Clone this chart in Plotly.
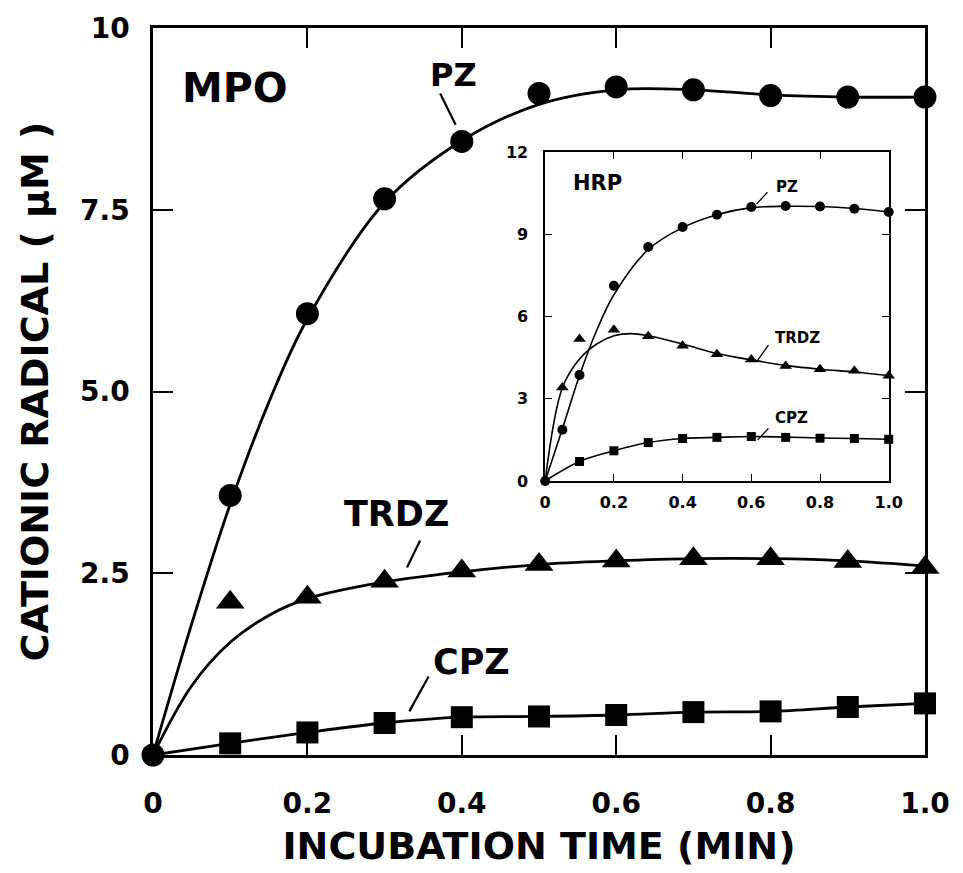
import plotly.graph_objects as go

# ---------------- data: MPO (main panel) ----------------
mpo_pz_t = [0, 0.1, 0.2, 0.3, 0.4, 0.5, 0.6, 0.7, 0.8, 0.9, 1.0]
mpo_pz_v = [0, 3.57, 6.07, 7.65, 8.44, 9.1, 9.19, 9.15, 9.07, 9.05, 9.05]
mpo_trdz_t = [0.1, 0.2, 0.3, 0.4, 0.5, 0.6, 0.7, 0.8, 0.9, 1.0]
mpo_trdz_v = [2.1, 2.17, 2.39, 2.53, 2.62, 2.67, 2.7, 2.7, 2.66, 2.58]
mpo_cpz_t = [0.1, 0.2, 0.3, 0.4, 0.5, 0.6, 0.7, 0.8, 0.9, 1.0]
mpo_cpz_v = [0.16, 0.31, 0.44, 0.52, 0.53, 0.55, 0.59, 0.6, 0.66, 0.71]

# fitted curves
mpo_pz_fit_t = [0, 0.05, 0.1, 0.15, 0.2, 0.3, 0.4, 0.5, 0.6, 0.7, 0.8, 0.9, 1.0]
mpo_pz_fit_v = [0, 1.8, 3.45, 4.85, 6.0, 7.6, 8.45, 8.95, 9.15, 9.15, 9.08, 9.05, 9.05]
mpo_trdz_fit_t = [0, 0.05, 0.1, 0.15, 0.2, 0.3, 0.4, 0.5, 0.6, 0.7, 0.8, 0.9, 1.0]
mpo_trdz_fit_v = [0, 0.95, 1.55, 1.92, 2.15, 2.38, 2.52, 2.62, 2.67, 2.7, 2.7, 2.67, 2.6]
mpo_cpz_fit_t = [0, 0.1, 0.2, 0.3, 0.4, 0.5, 0.6, 0.7, 0.8, 0.9, 1.0]
mpo_cpz_fit_v = [0, 0.16, 0.31, 0.44, 0.52, 0.53, 0.55, 0.59, 0.6, 0.66, 0.71]

# ---------------- data: HRP (inset) ----------------
hrp_pz_t = [0, 0.05, 0.1, 0.2, 0.3, 0.4, 0.5, 0.6, 0.7, 0.8, 0.9, 1.0]
hrp_pz_v = [0, 1.87, 3.87, 7.13, 8.54, 9.27, 9.72, 10.0, 10.04, 10.02, 9.94, 9.82]
hrp_trdz_t = [0.05, 0.1, 0.2, 0.3, 0.4, 0.5, 0.6, 0.7, 0.8, 0.9, 1.0]
hrp_trdz_v = [3.41, 5.18, 5.52, 5.28, 4.94, 4.63, 4.43, 4.2, 4.08, 4.02, 3.84]
hrp_cpz_t = [0.1, 0.2, 0.3, 0.4, 0.5, 0.6, 0.7, 0.8, 0.9, 1.0]
hrp_cpz_v = [0.71, 1.1, 1.4, 1.55, 1.59, 1.62, 1.59, 1.56, 1.55, 1.52]

hrp_pz_fit_t = [0, 0.05, 0.1, 0.15, 0.2, 0.3, 0.4, 0.5, 0.6, 0.7, 0.8, 0.9, 1.0]
hrp_pz_fit_v = [0, 1.9, 3.85, 5.5, 6.8, 8.45, 9.25, 9.72, 9.98, 10.03, 10.02, 9.95, 9.82]
hrp_trdz_fit_t = [0, 0.05, 0.1, 0.15, 0.2, 0.25, 0.3, 0.4, 0.5, 0.6, 0.7, 0.8, 0.9, 1.0]
hrp_trdz_fit_v = [0, 3.4, 4.45, 5.0, 5.3, 5.38, 5.3, 5.0, 4.65, 4.42, 4.22, 4.08, 3.98, 3.85]
hrp_cpz_fit_t = [0, 0.1, 0.2, 0.3, 0.4, 0.5, 0.6, 0.7, 0.8, 0.9, 1.0]
hrp_cpz_fit_v = [0, 0.71, 1.1, 1.4, 1.55, 1.59, 1.62, 1.6, 1.57, 1.55, 1.52]

# ---------------- tick labels ----------------
x_tickvals = [0, 0.2, 0.4, 0.6, 0.8, 1.0]
x_ticktext = ["0", "0.2", "0.4", "0.6", "0.8", "1.0"]
main_y_tickvals = [0, 2.5, 5.0, 7.5, 10]
main_y_ticktext = ["0", "2.5", "5.0", "7.5", "10"]
inset_y_tickvals = [0, 3, 6, 9, 12]
inset_y_ticktext = ["0", "3", "6", "9", "12"]

FONT = "DejaVu Sans"
BLACK = "black"

fig = go.Figure()


def add_curve(t, v, xa, ya, width):
    fig.add_trace(go.Scatter(x=t, y=v, mode="lines", xaxis=xa, yaxis=ya,
                             line=dict(color=BLACK, width=width, shape="spline", smoothing=1.0),
                             hoverinfo="skip", cliponaxis=False))


def add_marks(t, v, xa, ya, symbol, size):
    fig.add_trace(go.Scatter(x=t, y=v, mode="markers", xaxis=xa, yaxis=ya,
                             marker=dict(symbol=symbol, size=size, color=BLACK,
                                         line=dict(width=0)),
                             cliponaxis=False))


# main panel
add_curve(mpo_pz_fit_t, mpo_pz_fit_v, "x", "y", 2.8)
add_curve(mpo_trdz_fit_t, mpo_trdz_fit_v, "x", "y", 2.8)
add_curve(mpo_cpz_fit_t, mpo_cpz_fit_v, "x", "y", 2.8)
add_marks(mpo_pz_t, mpo_pz_v, "x", "y", "circle", 23)
add_marks(mpo_trdz_t, mpo_trdz_v, "x", "y", "triangle-up", 25)
add_marks(mpo_cpz_t, mpo_cpz_v, "x", "y", "square", 22)

# inset
add_curve(hrp_pz_fit_t, hrp_pz_fit_v, "x2", "y2", 1.6)
add_curve(hrp_trdz_fit_t, hrp_trdz_fit_v, "x2", "y2", 1.6)
add_curve(hrp_cpz_fit_t, hrp_cpz_fit_v, "x2", "y2", 1.6)
add_marks(hrp_pz_t, hrp_pz_v, "x2", "y2", "circle", 10)
add_marks(hrp_trdz_t, hrp_trdz_v, "x2", "y2", "triangle-up", 11)
add_marks(hrp_cpz_t, hrp_cpz_v, "x2", "y2", "square", 9)

axis_common = dict(showgrid=False, zeroline=False, showline=True, linecolor=BLACK,
                   ticks="inside", tickcolor=BLACK, mirror="ticks")

fig.update_layout(
    width=963, height=873,
    margin=dict(l=153, r=38, t=28, b=113),
    paper_bgcolor="white", plot_bgcolor="white",
    showlegend=False,
    xaxis=dict(axis_common, domain=[0, 1], range=[0, 1], tickvals=x_tickvals,
               ticktext=x_ticktext, ticklen=20, tickwidth=2, linewidth=2.5,
               ticklabelstandoff=22,
               tickfont=dict(family=FONT, size=28, color=BLACK, weight="bold"),
               title=dict(text="INCUBATION TIME (MIN)", standoff=14,
                          font=dict(family=FONT, size=38, color=BLACK, weight="bold"))),
    yaxis=dict(axis_common, domain=[0, 1], range=[0, 10], tickvals=main_y_tickvals,
               ticktext=main_y_ticktext, ticklen=20, tickwidth=2, linewidth=2.5,
               ticklabelstandoff=15,
               tickfont=dict(family=FONT, size=28, color=BLACK, weight="bold"),
               title=dict(text="CATIONIC RADICAL ( μM )", standoff=20,
                          font=dict(family=FONT, size=38, color=BLACK, weight="bold"))),
    xaxis2=dict(axis_common, anchor="y2", domain=[0.508, 0.953], range=[0, 1],
                tickvals=x_tickvals, ticktext=x_ticktext, ticklen=7, tickwidth=1.3,
                linewidth=1.6, ticklabelstandoff=6,
                tickfont=dict(family=FONT, size=16, color=BLACK, weight="bold")),
    yaxis2=dict(axis_common, anchor="x2", domain=[0.377, 0.829], range=[0, 12],
                tickvals=inset_y_tickvals, ticktext=inset_y_ticktext, ticklen=7,
                tickwidth=1.3, linewidth=1.6, ticklabelstandoff=12,
                tickfont=dict(family=FONT, size=16, color=BLACK, weight="bold")),
)

# text labels
def label(text, x, y, size, xref="x", yref="y"):
    fig.add_annotation(text=text, x=x, y=y, xref=xref, yref=yref, showarrow=False,
                       xanchor="center", yanchor="middle",
                       font=dict(family=FONT, size=size, color=BLACK, weight="bold"))


label("MPO", 0.106, 9.18, 41)
label("PZ", 0.389, 9.36, 32)
label("TRDZ", 0.315, 3.32, 35)
label("CPZ", 0.412, 1.28, 35)
label("HRP", 0.152, 10.87, 21, "x2", "y2")
label("PZ", 0.703, 10.72, 15, "x2", "y2")
label("TRDZ", 0.735, 5.22, 15, "x2", "y2")
label("CPZ", 0.717, 2.28, 15, "x2", "y2")

# leader lines from the labels to the curves
leaders_main = [((0.372, 9.10), (0.392, 8.67)),
                ((0.346, 2.95), (0.329, 2.58)),
                ((0.357, 1.08), (0.332, 0.60))]
leaders_inset = [((0.647, 10.54), (0.615, 10.11)),
                 ((0.650, 4.96), (0.615, 4.35)),
                 ((0.650, 1.92), (0.618, 1.49))]
for (a, b) in leaders_main:
    fig.add_shape(type="line", x0=a[0], y0=a[1], x1=b[0], y1=b[1], xref="x", yref="y",
                  line=dict(color=BLACK, width=2.2))
for (a, b) in leaders_inset:
    fig.add_shape(type="line", x0=a[0], y0=a[1], x1=b[0], y1=b[1], xref="x2", yref="y2",
                  line=dict(color=BLACK, width=1.3))

fig.write_html("out.html")
